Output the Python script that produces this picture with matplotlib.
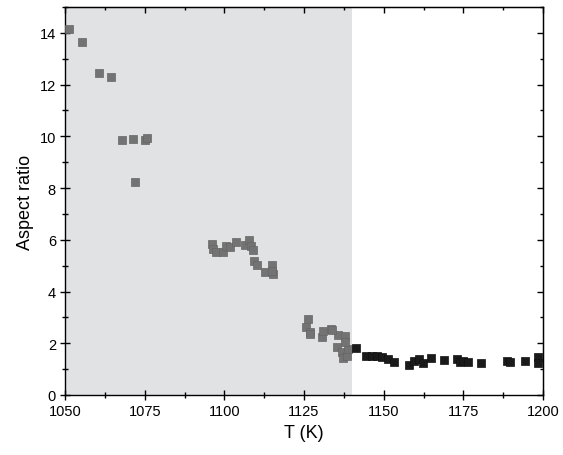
import matplotlib.pyplot as plt
from matplotlib.ticker import MultipleLocator

plt.rcParams['font.family'] = ['Liberation Sans', 'DejaVu Sans']

# points inside the shaded range (grey squares)
t_grey = [1051.3, 1055.3, 1060.8, 1064.4, 1067.8, 1071.3, 1075.0, 1075.7, 1071.9,
          1096.0, 1096.5, 1097.4, 1099.5, 1100.5, 1101.8, 1103.7, 1106.5, 1107.8,
          1108.5, 1109.1, 1109.3, 1110.1, 1112.8, 1114.9, 1115.2, 1115.0,
          1126.4, 1125.6, 1126.9, 1130.5, 1131.0, 1133.6, 1135.8, 1138.0, 1135.2,
          1136.8, 1137.3, 1138.4, 1138.9, 1137.8, 1127.0, 1133.7]
ar_grey = [14.15, 13.64, 12.44, 12.28, 9.86, 9.88, 9.84, 9.95, 8.22,
           5.84, 5.65, 5.54, 5.54, 5.75, 5.71, 5.93, 5.80, 5.99,
           5.77, 5.62, 5.19, 5.03, 4.74, 5.03, 4.68, 4.80,
           2.94, 2.61, 2.42, 2.23, 2.49, 2.55, 2.32, 2.29, 1.84,
           1.65, 1.42, 1.52, 1.78, 2.04, 2.36, 2.53]

# points above 1140 K (black squares)
t_black = [1141.3, 1144.6, 1146.2, 1147.8, 1149.4, 1151.4, 1153.1, 1157.8, 1159.4,
           1161.0, 1162.4, 1165.0, 1169.0, 1173.0, 1174.0, 1175.0, 1176.6, 1180.5,
           1188.6, 1189.6, 1194.4, 1198.5, 1198.5]
ar_black = [1.80, 1.52, 1.50, 1.52, 1.45, 1.39, 1.29, 1.15, 1.33,
            1.39, 1.25, 1.42, 1.35, 1.39, 1.29, 1.33, 1.26, 1.22,
            1.30, 1.27, 1.30, 1.45, 1.22]

shade_start, shade_end = 1050, 1140

fig = plt.figure(figsize=(5.63, 4.56), dpi=100)
ax = fig.add_axes([0.1155, 0.1316, 0.849, 0.851])

ax.axvspan(shade_start, shade_end, color='#e1e2e4', lw=0, zorder=0)
ax.scatter(t_grey, ar_grey, marker='s', s=40, color='#737373',
           edgecolors='#666666', linewidths=0.5, zorder=3)
ax.scatter(t_black, ar_black, marker='s', s=40, color='#1a1a1a',
           edgecolors='#111111', linewidths=0.5, zorder=3)

ax.set_xlim(1050, 1200)
ax.set_ylim(0, 15)
ax.xaxis.set_major_locator(MultipleLocator(25))
ax.xaxis.set_minor_locator(MultipleLocator(12.5))
ax.yaxis.set_major_locator(MultipleLocator(2))
ax.yaxis.set_minor_locator(MultipleLocator(1))

# bottom/left ticks cross the axis, top/right ticks point inward
ax.tick_params(which='both', direction='inout', labelsize=10.5, width=1, pad=3)
ax.tick_params(which='major', length=7)
ax.tick_params(which='minor', length=4)

top = ax.secondary_xaxis('top')
top.xaxis.set_major_locator(MultipleLocator(25))
top.xaxis.set_minor_locator(MultipleLocator(12.5))
top.tick_params(which='both', direction='in', labeltop=False, width=1)
top.tick_params(which='major', length=4)
top.tick_params(which='minor', length=2.5)

right = ax.secondary_yaxis('right')
right.yaxis.set_major_locator(MultipleLocator(2))
right.yaxis.set_minor_locator(MultipleLocator(1))
right.tick_params(which='both', direction='in', labelright=False, width=1)
right.tick_params(which='major', length=4)
right.tick_params(which='minor', length=2.5)

for spine in ax.spines.values():
    spine.set_linewidth(1)

ax.set_xlabel('T (K)', fontsize=13)
ax.set_ylabel('Aspect ratio', fontsize=13)

fig.savefig('out.png', dpi=100)
